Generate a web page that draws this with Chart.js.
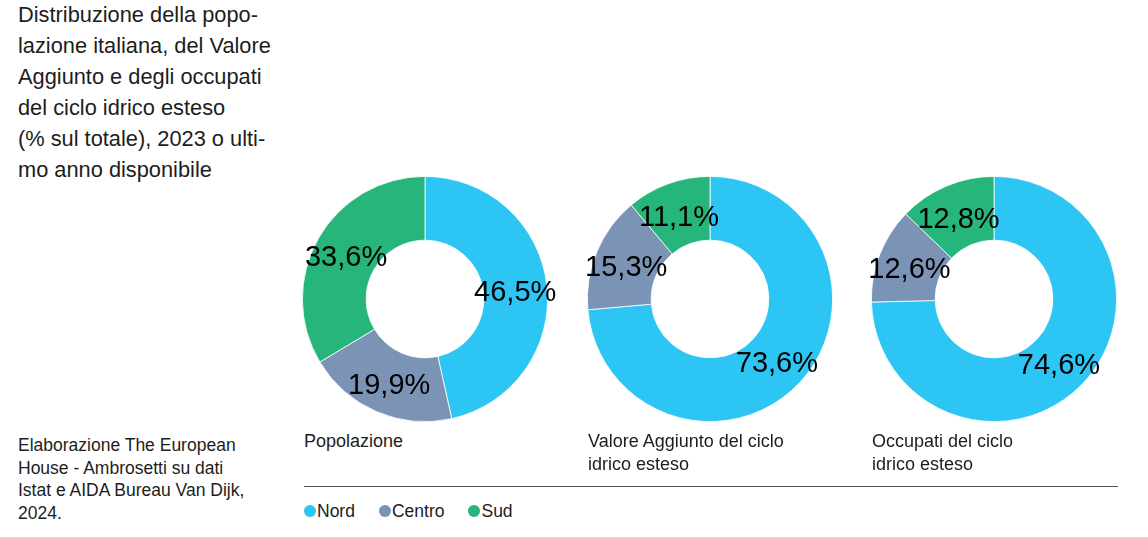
<!DOCTYPE html>
<html lang="it">
<head>
<meta charset="utf-8">
<script src="https://cdn.jsdelivr.net/npm/chart.js@4.4.1/dist/chart.umd.min.js"></script>
<style>
    html, body {
        margin: 0;
        padding: 0;
        background: #ffffff;
    }
    body {
        width: 1148px;
        height: 537px;
        position: relative;
        overflow: hidden;
        font-family: "Liberation Sans", Arial, sans-serif;
        color: #1d1d1b;
    }
    #titolo {
        position: absolute;
        left: 18px;
        top: -1px;
        width: 280px;
        font-size: 21.8px;
        line-height: 31px;
        white-space: nowrap;
    }
    #fonte {
        position: absolute;
        left: 18px;
        top: 434px;
        width: 260px;
        font-size: 17.5px;
        line-height: 22.5px;
        white-space: nowrap;
    }
    .torta {
        position: absolute;
        top: 174px;
    }
    .etichetta {
        position: absolute;
        top: 430px;
        font-size: 18px;
        line-height: 22.5px;
        white-space: nowrap;
    }
    #linea {
        position: absolute;
        left: 304px;
        top: 486px;
        width: 814px;
        height: 0;
        border-top: 1.5px solid #555555;
    }
    #legenda {
        position: absolute;
        left: 304px;
        top: 500px;
        font-size: 17.5px;
        line-height: 22px;
        display: flex;
    }
    #legenda span.voce {
        display: flex;
        align-items: center;
        margin-right: 24px;
    }
    #legenda span.pallino {
        display: inline-block;
        width: 12px;
        height: 12px;
        border-radius: 50%;
        margin-right: 1px;
    }
</style>
</head>
<body>
<div id="titolo">Distribuzione della popo-<br>lazione italiana, del Valore<br>Aggiunto e degli occupati<br>del ciclo idrico esteso<br>(% sul totale), 2023 o ulti-<br>mo anno disponibile</div>
<div id="fonte">Elaborazione The European<br>House - Ambrosetti su dati<br>Istat e AIDA Bureau Van Dijk,<br>2024.</div>

<canvas id="torta1" class="torta" width="306" height="250" style="left:272px"></canvas>
<canvas id="torta2" class="torta" width="306" height="250" style="left:557px"></canvas>
<canvas id="torta3" class="torta" width="306" height="250" style="left:841px"></canvas>

<div class="etichetta" id="etichetta1" style="left:304px"></div>
<div class="etichetta" id="etichetta2" style="left:588px"></div>
<div class="etichetta" id="etichetta3" style="left:872px"></div>

<div id="linea"></div>
<div id="legenda"></div>

<script>
const regioni = ["Nord", "Centro", "Sud"];
const popolazione = [46.5, 19.9, 33.6];
const valoreAggiunto = [73.6, 15.3, 11.1];
const occupati = [74.6, 12.6, 12.8];
const titoliGrafici = [
    ["Popolazione"],
    ["Valore Aggiunto del ciclo", "idrico esteso"],
    ["Occupati del ciclo", "idrico esteso"]
];
const coloriRegioni = ["#2DC5F4", "#7B93B5", "#26B57B"];

var tortaCharts = [];

// etichette percentuali al centro di ogni spicchio
const etichettePercentuali = {
    id: "etichettePercentuali",
    afterDatasetsDraw: function (chart) {
        const ctx = chart.ctx;
        const meta = chart.getDatasetMeta(0);
        const valori = chart.data.datasets[0].data;
        ctx.save();
        ctx.font = "29px 'Liberation Sans', Arial, sans-serif";
        ctx.fillStyle = "#000000";
        ctx.textAlign = "center";
        ctx.textBaseline = "middle";
        meta.data.forEach(function (arc, i) {
            const pos = arc.tooltipPosition();
            const testo = valori[i].toFixed(1).replace(".", ",") + "%";
            ctx.fillText(testo, pos.x, pos.y + 4);
        });
        ctx.restore();
    }
};

function createTortaChart(idCanvas, valori) {
    const chartdata = {
        labels: regioni,
        datasets: [{
            data: valori,
            backgroundColor: coloriRegioni,
            borderColor: "#ffffff",
            borderWidth: 0.8,
        }],
    };
    const config = {
        type: "doughnut",
        data: chartdata,
        options: {
            responsive: false,
            animation: false,
            cutout: "48%",
            layout: {
                padding: { left: 30, right: 30, top: 2, bottom: 2 }
            },
            plugins: {
                legend: { display: false },
                tooltip: { enabled: false },
                title: { display: false },
            },
        },
        plugins: [etichettePercentuali],
    };
    return new Chart(document.getElementById(idCanvas), config);
}

tortaCharts.push(createTortaChart("torta1", popolazione));
tortaCharts.push(createTortaChart("torta2", valoreAggiunto));
tortaCharts.push(createTortaChart("torta3", occupati));

titoliGrafici.forEach(function (righe, i) {
    document.getElementById("etichetta" + (i + 1)).innerHTML = righe.join("<br>");
});

const legenda = document.getElementById("legenda");
regioni.forEach(function (nome, i) {
    const voce = document.createElement("span");
    voce.className = "voce";
    const pallino = document.createElement("span");
    pallino.className = "pallino";
    pallino.style.background = coloriRegioni[i];
    voce.appendChild(pallino);
    voce.appendChild(document.createTextNode(nome));
    legenda.appendChild(voce);
});
</script>
</body>
</html>
